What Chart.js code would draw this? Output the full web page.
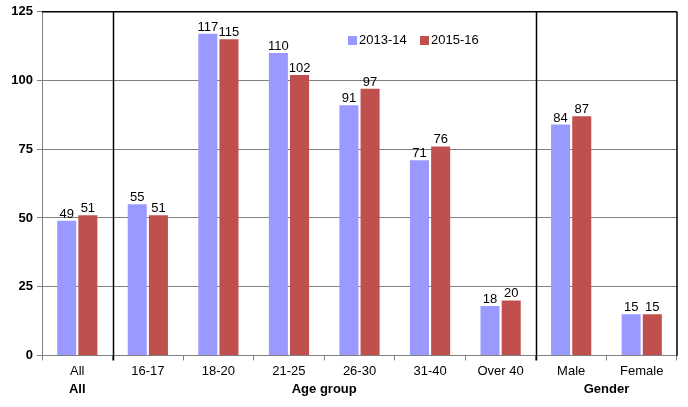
<!DOCTYPE html>
<html>
<head>
<meta charset="utf-8">
<script src="https://cdn.jsdelivr.net/npm/chart.js@4.4.1/dist/chart.umd.min.js"></script>
<style>
html,body{margin:0;padding:0;background:#fff;}
#wrap{width:688px;height:407px;position:relative;}
</style>
</head>
<body>
<div id="wrap"><canvas id="c" width="688" height="407"></canvas></div>
<script>
const categories = ["All","16-17","18-20","21-25","26-30","31-40","Over 40","Male","Female"];
const series2013 = [49,55,117,110,91,71,18,84,15];
const series2015 = [51,51,115,102,97,76,20,87,15];
const seriesNames = ["2013-14","2015-16"];
const yTicks = [0,25,50,75,100,125];
const groups = [
  {label:"All", from:0, to:0},
  {label:"Age group", from:1, to:6},
  {label:"Gender", from:7, to:8}
];
const separatorsAfter = [0,6];

const FONT = "'Liberation Sans', Arial, sans-serif";
const colors = ["#9999FF","#C0504D"];

const overlay = {
  id:'overlay',
  afterDatasetsDraw(chart){
    const ctx = chart.ctx;
    const x = chart.scales.x, y = chart.scales.y;
    const ca = chart.chartArea;
    ctx.save();
    ctx.strokeStyle = "#000";
    ctx.lineWidth = 1.5;
    ctx.beginPath();
    ctx.moveTo(ca.left, y.getPixelForValue(125));
    ctx.lineTo(ca.right, y.getPixelForValue(125));
    ctx.moveTo(ca.right, y.getPixelForValue(125));
    ctx.lineTo(ca.right, ca.bottom);
    ctx.stroke();
    const step = (x.getPixelForValue(1) - x.getPixelForValue(0));
    separatorsAfter.forEach(i=>{
      const px = Math.round(x.getPixelForValue(i) + step/2) + 0.5;
      ctx.beginPath();
      ctx.moveTo(px, y.getPixelForValue(125));
      ctx.lineTo(px, ca.bottom + 5);
      ctx.stroke();
    });
    ctx.fillStyle = "#000";
    ctx.font = "13px " + FONT;
    ctx.textAlign = "center";
    ctx.textBaseline = "alphabetic";
    chart.data.datasets.forEach((ds, di)=>{
      const meta = chart.getDatasetMeta(di);
      meta.data.forEach((bar, i)=>{
        ctx.fillText(String(ds.data[i]), bar.x, bar.y - 3);
      });
    });
    ctx.font = "bold 13px " + FONT;
    ctx.textBaseline = "middle";
    groups.forEach(g=>{
      const cx = (x.getPixelForValue(g.from) + x.getPixelForValue(g.to))/2;
      ctx.fillText(g.label, cx, ca.bottom + 34);
    });
    ctx.font = "13px " + FONT;
    ctx.textAlign = "left";
    ctx.textBaseline = "middle";
    const ly = 40;
    let lx = 348;
    seriesNames.forEach((n, i)=>{
      ctx.fillStyle = colors[i];
      ctx.fillRect(lx, ly - 4, 9, 9);
      ctx.fillStyle = "#000";
      ctx.fillText(n, lx + 11, ly);
      lx += 72;
    });
    ctx.restore();
  }
};

new Chart(document.getElementById('c'), {
  type:'bar',
  data:{
    labels:categories,
    datasets:[
      {label:seriesNames[0], data:series2013, backgroundColor:colors[0], categoryPercentage:0.6, barPercentage:0.9},
      {label:seriesNames[1], data:series2015, backgroundColor:colors[1], categoryPercentage:0.6, barPercentage:0.9}
    ]
  },
  options:{
    responsive:false,
    animation:false,
    devicePixelRatio:1,
    layout:{padding:{left:0,right:11,top:4,bottom:25}},
    plugins:{legend:{display:false}, tooltip:{enabled:false}},
    scales:{
      x:{
        grid:{offset:true, drawOnChartArea:false, color:"#808080", tickLength:5},
        border:{color:"#808080", width:1},
        ticks:{color:"#000", font:{family:FONT, size:13}, padding:3, maxRotation:0, autoSkip:false}
      },
      y:{
        min:0, max:125,
        afterFit(s){ s.width = 42; },
        afterBuildTicks(s){ s.ticks = yTicks.map(v=>({value:v})); },
        grid:{color:"#808080", tickLength:5},
        border:{color:"#808080", width:1},
        ticks:{color:"#000", font:{family:FONT, size:13, weight:'bold'}, padding:4}
      }
    }
  },
  plugins:[overlay]
});
</script>
</body>
</html>
